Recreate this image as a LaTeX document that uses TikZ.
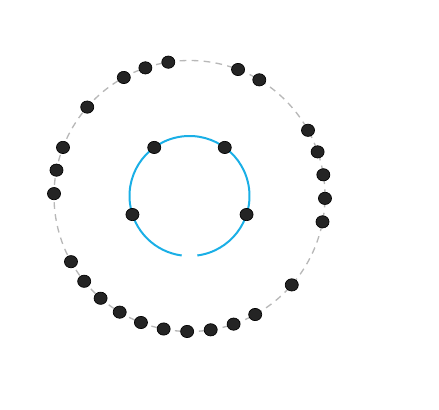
\documentclass[tikz,border=0pt]{standalone}
\usetikzlibrary{calc,shapes.geometric}
\definecolor{ringblue}{HTML}{1AAFE6}

\begin{document}
\begin{tikzpicture}[
  x=0.75pt,y=0.75pt,
  dot/.style={ellipse,draw=black,fill=black!86,line width=0.5pt,inner sep=0pt,
              minimum width=9.8pt,minimum height=9.2pt},
  ring/.style={draw=black!28,line width=1pt,dash pattern=on 5pt off 4pt},
  core/.style={draw=ringblue,line width=1.5pt}
]
\useasboundingbox (0,0) rectangle (439,410);
\coordinate (c) at (189.5,214);

% ---- outer ring ----
\draw[ring] (c) circle[radius=135.5];
\foreach \a in {-1,9,19,29,59,69,99,109,119,139,159,169,179,
                209,219,229,239,249,259,269,279,289,299,319,349}
  \node[dot] (o\a) at ($(c)+(\a:135.5)$) {};

% ---- inner ring ----
\draw[core] ($(c)+(277.5:60)$) arc[start angle=277.5,end angle=622.5,radius=60];
\foreach \a in {54,126,198,342}
  \node[dot] (i\a) at ($(c)+(\a:60)$) {};

\end{tikzpicture}
\end{document}
